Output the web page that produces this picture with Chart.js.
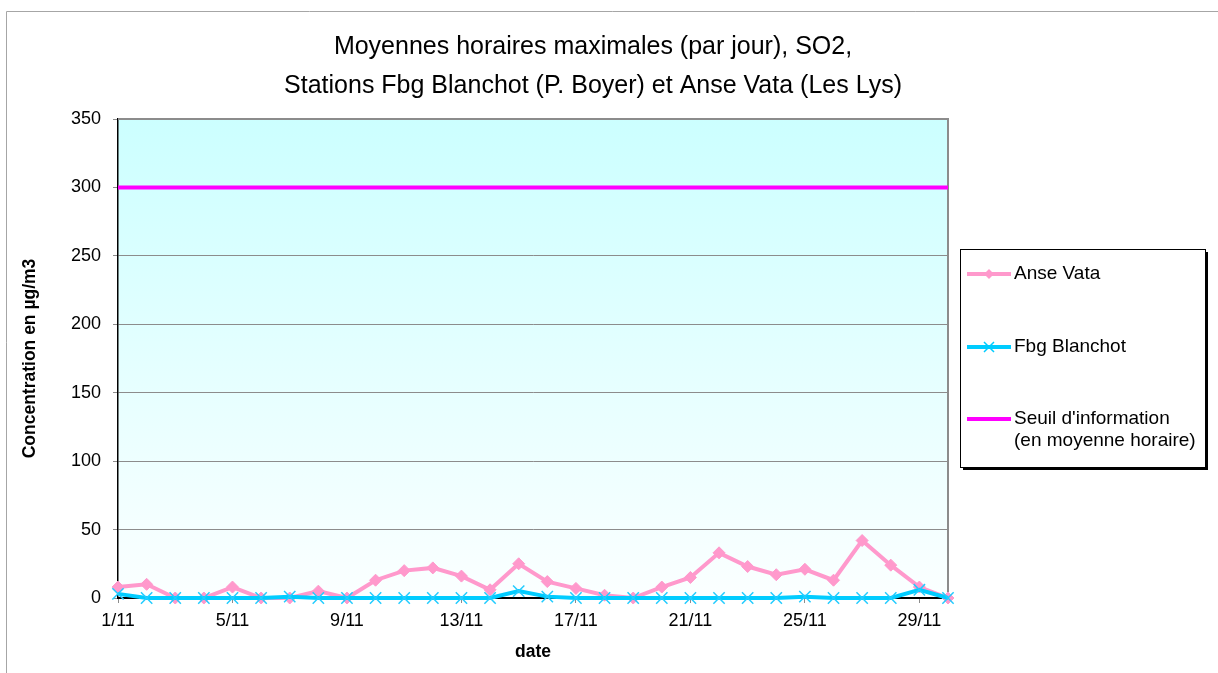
<!DOCTYPE html>
<html>
<head>
<meta charset="utf-8">
<script src="https://cdn.jsdelivr.net/npm/chart.js@4/dist/chart.umd.min.js"></script>
<style>
html, body { margin: 0; padding: 0; background: #ffffff; }
#wrap { position: relative; width: 1218px; height: 673px; }
canvas { display: block; }
</style>
</head>
<body>
<div id="wrap"><canvas id="c" width="1218" height="673"></canvas></div>
<script>
// ---- Data ----
const categories = ['1/11','2/11','3/11','4/11','5/11','6/11','7/11','8/11','9/11','10/11',
  '11/11','12/11','13/11','14/11','15/11','16/11','17/11','18/11','19/11','20/11',
  '21/11','22/11','23/11','24/11','25/11','26/11','27/11','28/11','29/11','30/11'];
const anseVata = [8, 10, 0, 0, 8, 0, 0, 5, 0, 13, 20, 22, 16, 6, 25, 12, 7, 2, 0, 8,
  15, 33, 23, 17, 21, 13, 42, 24, 8, 0];
const fbgBlanchot = [3, 0, 0, 0, 0, 0, 1, 0, 0, 0, 0, 0, 0, 0, 5, 1, 0, 0, 0, 0,
  0, 0, 0, 0, 1, 0, 0, 0, 6, 0];
const seuilInformation = [300, 300, 300, 300, 300, 300, 300, 300, 300, 300,
  300, 300, 300, 300, 300, 300, 300, 300, 300, 300,
  300, 300, 300, 300, 300, 300, 300, 300, 300, 300];
const yTickValues = [0, 50, 100, 150, 200, 250, 300, 350];
const seriesNames = ['Anse Vata', 'Fbg Blanchot', "Seuil d'information", '(en moyenne horaire)'];
const titleLines = ['Moyennes horaires maximales (par jour), SO2,',
  'Stations Fbg Blanchot (P. Boyer) et Anse Vata (Les Lys)'];
const xAxisTitle = 'date';
const yAxisTitle = 'Concentration en µg/m3';

const FONT = '"Liberation Sans", Arial, sans-serif';
Chart.defaults.font.family = FONT;
Chart.defaults.color = '#000';

const decorPlugin = {
  id: 'decor',
  beforeDraw(chart) {
    const ctx = chart.ctx;
    const a = chart.chartArea;
    ctx.save();
    ctx.strokeStyle = '#a6a6a6';
    ctx.lineWidth = 1;
    ctx.beginPath();
    ctx.moveTo(6.5, 673);
    ctx.lineTo(6.5, 11.5);
    ctx.lineTo(1218, 11.5);
    ctx.stroke();
    const g = ctx.createLinearGradient(0, a.top, 0, a.bottom);
    g.addColorStop(0, '#ccffff');
    g.addColorStop(1, '#fbffff');
    ctx.fillStyle = g;
    ctx.fillRect(a.left, a.top, a.right - a.left, a.bottom - a.top);
    ctx.restore();
  },
  beforeDatasetsDraw(chart) {
    const ctx = chart.ctx;
    const a = chart.chartArea;
    ctx.save();
    ctx.strokeStyle = '#8c8c8c';
    ctx.lineWidth = 2;
    ctx.beginPath();
    ctx.moveTo(a.left, a.top);
    ctx.lineTo(a.right, a.top);
    ctx.lineTo(a.right, a.bottom);
    ctx.stroke();
    ctx.restore();
  },
  afterDraw(chart) {
    const ctx = chart.ctx;
    ctx.save();
    ctx.fillStyle = '#000';
    ctx.font = '25px ' + FONT;
    ctx.textAlign = 'center';
    ctx.textBaseline = 'middle';
    ctx.fillText(titleLines[0], 593, 47);
    ctx.fillText(titleLines[1], 593, 86);

    const bx = 960, by = 249, bw = 245, bh = 218;
    ctx.fillStyle = '#000';
    ctx.fillRect(bx + 3, by + 3, bw, bh);
    ctx.fillStyle = '#fff';
    ctx.fillRect(bx, by, bw, bh);
    ctx.strokeStyle = '#000';
    ctx.lineWidth = 1;
    ctx.strokeRect(bx + 0.5, by + 0.5, bw, bh);

    const ds = chart.data.datasets;
    const rows = [274, 347, 419];
    const x1 = 967, x2 = 1011, xm = 989;
    for (let i = 0; i < 3; i++) {
      const y = rows[i];
      ctx.strokeStyle = ds[i].borderColor;
      ctx.lineWidth = 4;
      ctx.beginPath();
      ctx.moveTo(x1, y);
      ctx.lineTo(x2, y);
      ctx.stroke();
      if (i === 0) {
        ctx.fillStyle = ds[i].borderColor;
        ctx.beginPath();
        ctx.moveTo(xm, y - 5); ctx.lineTo(xm + 5, y); ctx.lineTo(xm, y + 5); ctx.lineTo(xm - 5, y);
        ctx.closePath();
        ctx.fill();
      } else if (i === 1) {
        ctx.lineWidth = 1.5;
        ctx.beginPath();
        ctx.moveTo(xm - 5, y - 5); ctx.lineTo(xm + 5, y + 5);
        ctx.moveTo(xm + 5, y - 5); ctx.lineTo(xm - 5, y + 5);
        ctx.stroke();
      }
    }
    ctx.fillStyle = '#000';
    ctx.font = '19px ' + FONT;
    ctx.textAlign = 'left';
    ctx.textBaseline = 'middle';
    ctx.fillText(seriesNames[0], 1014, 274);
    ctx.fillText(seriesNames[1], 1014, 347);
    ctx.fillText(seriesNames[2], 1014, 419);
    ctx.fillText(seriesNames[3], 1014, 441);
    ctx.restore();
  }
};

new Chart(document.getElementById('c'), {
  type: 'line',
  data: {
    labels: categories,
    datasets: [
      {
        label: seriesNames[0],
        data: anseVata,
        borderColor: '#ff99cc',
        backgroundColor: '#ff99cc',
        borderWidth: 4,
        pointStyle: 'rectRot',
        pointRadius: 6,
        pointBorderWidth: 1,
        pointBackgroundColor: '#ff99cc',
        pointBorderColor: '#ff99cc',
        tension: 0,
        clip: false,
        order: 1
      },
      {
        label: seriesNames[1],
        data: fbgBlanchot,
        borderColor: '#00ccff',
        backgroundColor: '#00ccff',
        borderWidth: 4,
        pointStyle: 'crossRot',
        pointRadius: 8,
        pointBorderWidth: 1.5,
        pointBorderColor: '#22ccff',
        tension: 0,
        clip: false,
        order: 0
      },
      {
        label: seriesNames[2],
        data: seuilInformation,
        borderColor: '#ff00ff',
        backgroundColor: '#ff00ff',
        borderWidth: 4,
        pointRadius: 0,
        tension: 0,
        order: 2
      }
    ]
  },
  options: {
    responsive: false,
    animation: false,
    events: [],
    layout: { padding: { left: 0, top: 119, right: 270, bottom: 0 } },
    plugins: {
      legend: { display: false },
      title: { display: false },
      tooltip: { enabled: false }
    },
    scales: {
      x: {
        offset: false,
        afterFit(scale) { scale.height = 75; },
        border: { color: '#000', width: 2 },
        grid: {
          drawOnChartArea: false,
          drawTicks: true,
          tickLength: 5,
          color: (c) => (c.index % 4 === 0 ? '#8c8c8c' : 'rgba(0,0,0,0)'),
          tickColor: (c) => (c.index % 4 === 0 ? '#8c8c8c' : 'rgba(0,0,0,0)')
        },
        ticks: {
          autoSkip: false,
          maxRotation: 0,
          minRotation: 0,
          padding: 7,
          font: { size: 18 },
          color: '#000',
          callback: (v, i) => (i % 4 === 0 ? categories[i] : '')
        },
        title: {
          display: true,
          text: xAxisTitle,
          font: { size: 17.5, weight: 'bold' },
          color: '#000',
          padding: { top: 0, bottom: 10.5 }
        }
      },
      y: {
        min: 0,
        max: 350,
        afterFit(scale) { scale.width = 118; },
        afterBuildTicks(scale) { scale.ticks = yTickValues.map(v => ({ value: v })); },
        border: { color: '#000', width: 1.5 },
        grid: {
          color: (c) => (c.tick && (c.tick.value === 0 || c.tick.value === 350) ? 'rgba(0,0,0,0)' : '#8c8c8c'),
          borderDash: [2, 2],
          tickColor: '#8c8c8c',
          tickBorderDash: [],
          tickLength: 5,
          lineWidth: 1
        },
        ticks: {
          padding: 12,
          font: { size: 18 },
          color: '#000'
        },
        title: {
          display: true,
          text: yAxisTitle,
          font: { size: 17.5, weight: 'bold' },
          color: '#000',
          padding: { top: 19.5, bottom: 0 }
        }
      }
    }
  },
  plugins: [decorPlugin]
});
</script>
</body>
</html>
